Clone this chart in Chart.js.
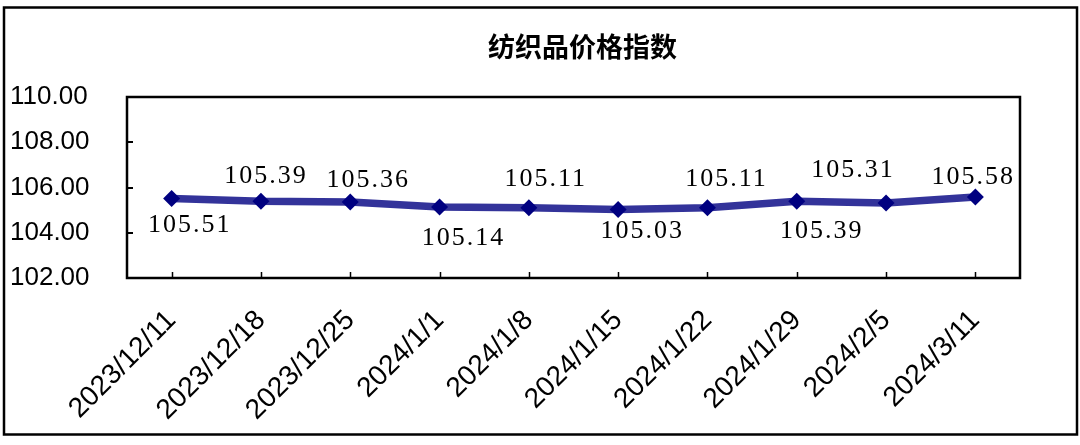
<!DOCTYPE html>
<html>
<head>
<meta charset="utf-8">
<script src="https://cdn.jsdelivr.net/npm/chart.js@4.4.1/dist/chart.umd.min.js"></script>
<style>
html,body{margin:0;padding:0;background:#fff;}
#wrap{width:1080px;height:445px;position:relative;}
canvas{display:block;}
</style>
</head>
<body>
<div id="wrap"><canvas id="c" width="1080" height="445"></canvas></div>
<script>
const title = '纺织品价格指数';
const categories = ['2023/12/11','2023/12/18','2023/12/25','2024/1/1','2024/1/8','2024/1/15','2024/1/22','2024/1/29','2024/2/5','2024/3/11'];
const values = [105.51, 105.39, 105.36, 105.14, 105.11, 105.03, 105.11, 105.39, 105.31, 105.58];
const yMin = 102, yMax = 110, yStep = 2;

// label placement (pixels relative to the point)
const labelOffsets = [[18,27],[5,-25],[18,-22],[24,31],[17,-28],[24,22],[19,-28],[25,30],[-33,-33],[-2,-20]];

const framePlugin = {
  id: 'frame',
  beforeDraw(chart) {
    const ctx = chart.ctx;
    ctx.save();
    ctx.fillStyle = '#fff';
    ctx.fillRect(0, 0, chart.width, chart.height);
    ctx.strokeStyle = '#000';
    ctx.lineWidth = 2.5;
    ctx.strokeRect(4, 7.5, 1073, 427);
    const ca = chart.chartArea;
    ctx.fillStyle = '#000';
    ctx.font = 'bold 27px "Noto Sans CJK SC"';
    ctx.textAlign = 'center';
    ctx.textBaseline = 'middle';
    ctx.fillText(title, (ca.left + ca.right) / 2 + 9, 47);
    ctx.restore();
  },
  beforeDatasetsDraw(chart) {
    const ctx = chart.ctx;
    const ca = chart.chartArea;
    const xs = chart.scales.x, ys = chart.scales.y;
    ctx.save();
    ctx.strokeStyle = '#000';
    ctx.lineWidth = 2.5;
    ctx.strokeRect(ca.left, ca.top, ca.right - ca.left, ca.bottom - ca.top);
    ctx.lineWidth = 1.5;
    ctx.beginPath();
    for (let i = 0; i < categories.length; i++) {
      const x = Math.round(xs.getPixelForValue(i)) + 0.5;
      ctx.moveTo(x, ca.bottom);
      ctx.lineTo(x, ca.bottom - 6);
    }
    ctx.stroke();
    ctx.lineWidth = 2;
    ctx.beginPath();
    for (let v = yMin + yStep; v < yMax; v += yStep) {
      const y = Math.round(ys.getPixelForValue(v));
      ctx.moveTo(ca.left, y);
      ctx.lineTo(ca.left + 6, y);
    }
    ctx.stroke();
    ctx.restore();
  },
  afterDatasetsDraw(chart) {
    const ctx = chart.ctx;
    const meta = chart.getDatasetMeta(0);
    ctx.save();
    ctx.fillStyle = '#000';
    ctx.font = '26px "Liberation Serif"';
    try { ctx.letterSpacing = '2px'; } catch (e) {}
    ctx.textAlign = 'center';
    ctx.textBaseline = 'middle';
    meta.data.forEach((pt, i) => {
      const o = labelOffsets[i];
      ctx.fillText(values[i].toFixed(2), pt.x + o[0], pt.y + o[1]);
    });
    ctx.restore();
  }
};

new Chart(document.getElementById('c'), {
  type: 'line',
  data: {
    labels: categories,
    datasets: [{
      data: values,
      borderColor: '#33339a',
      borderWidth: 7.5,
      tension: 0,
      pointStyle: 'rectRot',
      pointRadius: 8.5,
      pointHoverRadius: 8.5,
      pointBackgroundColor: '#000080',
      pointBorderColor: '#000080',
      pointBorderWidth: 0,
      clip: false
    }]
  },
  options: {
    responsive: false,
    animation: false,
    devicePixelRatio: 1,
    layout: { padding: { left: 10, top: 97, right: 60, bottom: 0 } },
    plugins: { legend: { display: false }, title: { display: false }, tooltip: { enabled: false } },
    scales: {
      x: {
        offset: true,
        grid: { display: false, drawTicks: false },
        border: { display: false },
        ticks: {
          autoSkip: false,
          maxRotation: 45,
          minRotation: 45,
          padding: 26,
          color: '#000',
          font: { family: '"Liberation Sans"', size: 28 }
        },
        afterFit(scale) { scale.height = 167; }
      },
      y: {
        min: yMin,
        max: yMax,
        grid: { display: false, drawTicks: false },
        border: { display: false },
        ticks: {
          stepSize: yStep,
          crossAlign: 'far',
          padding: 0,
          color: '#000',
          font: { family: '"Liberation Sans"', size: 26 },
          callback: v => Number(v).toFixed(2)
        },
        afterFit(scale) { scale.width = 117; }
      }
    }
  },
  plugins: [framePlugin]
});
</script>
</body>
</html>
